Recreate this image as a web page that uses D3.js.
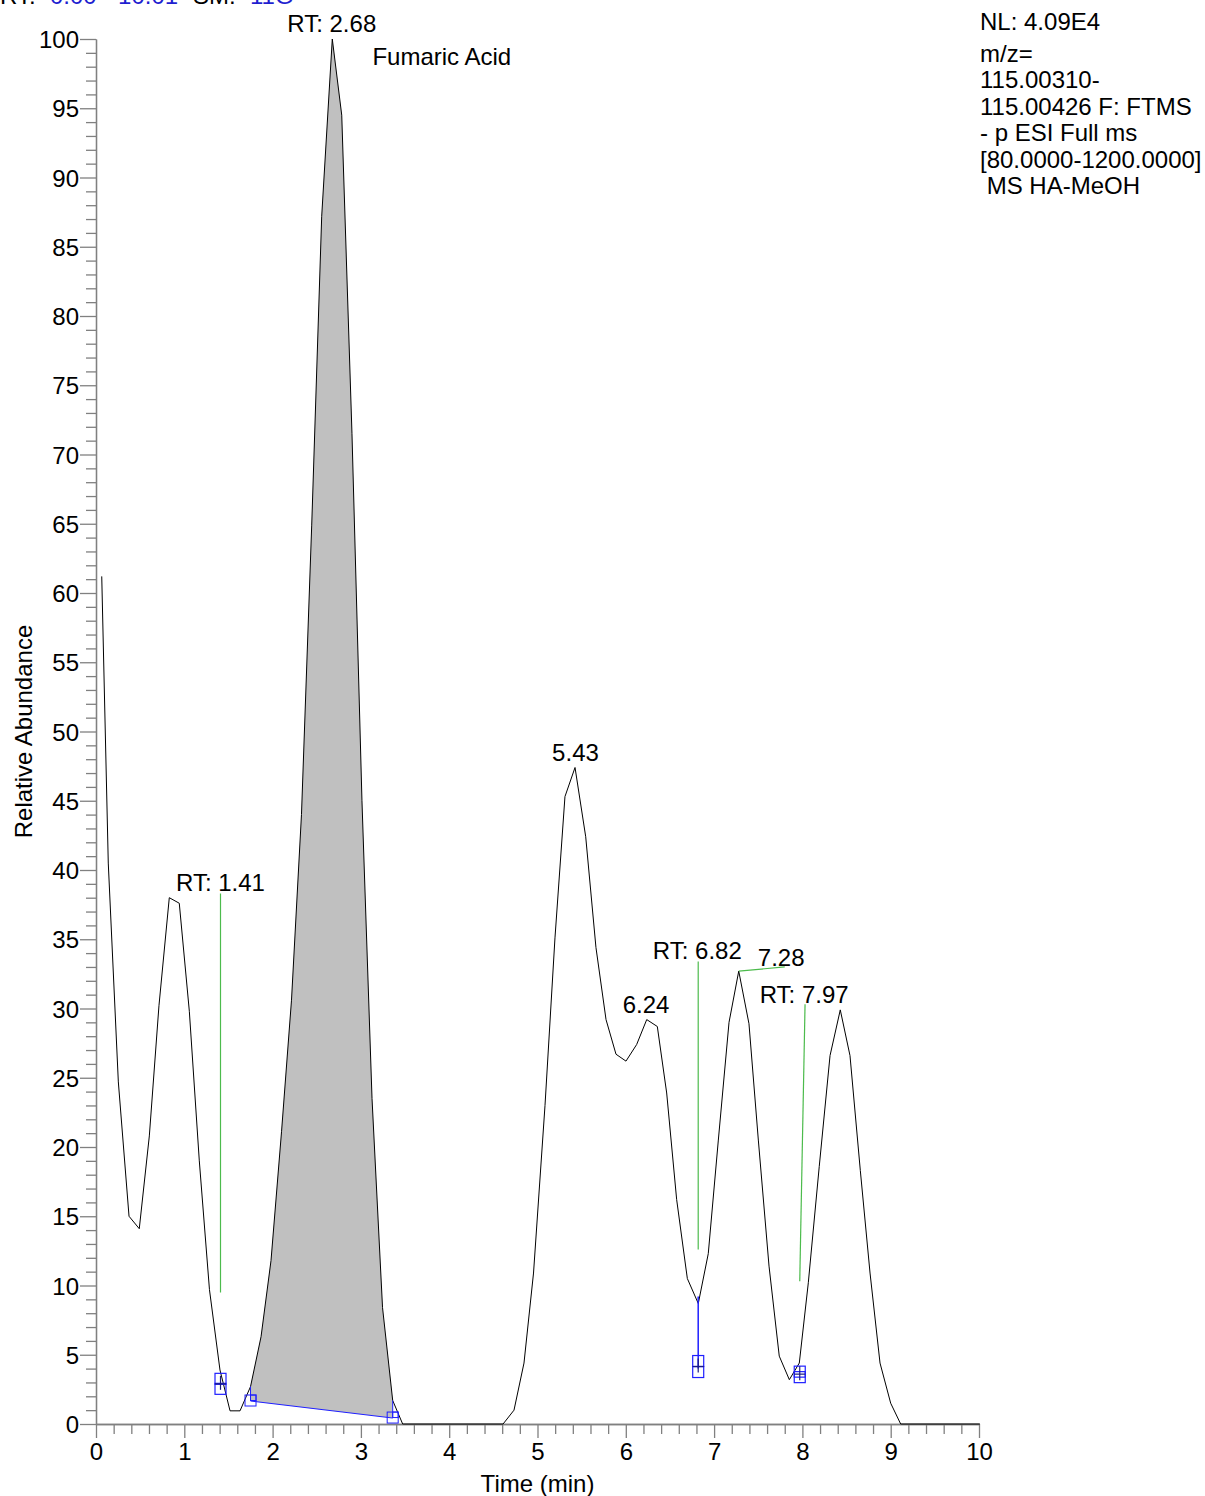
<!DOCTYPE html>
<html lang="en">
<head>
    <meta charset="UTF-8">
    <title>Fumaric Acid chromatogram</title>
    <script src="https://d3js.org/d3.v7.min.js"></script>
    <style>
        body {
            margin: 0;
            background: #fff;
            font-family: Arial, "Liberation Sans", sans-serif;
        }
        svg text {
            font-family: Arial, "Liberation Sans", sans-serif;
        }
    </style>
</head>
<body>
    <div id="chart"></div>
    <script>
        // retention time (min) and relative abundance of the trace
        const times = [0.065, 0.139, 0.253, 0.374, 0.490, 0.604, 0.713, 0.830, 0.943, 1.057,
            1.170, 1.285, 1.404, 1.518, 1.631, 1.750, 1.869, 1.982, 2.101, 2.214,
            2.327, 2.443, 2.556, 2.676, 2.783, 2.899, 3.012, 3.126, 3.245, 3.360,
            3.473, 4.610, 4.734, 4.847, 4.955, 5.085, 5.198, 5.311, 5.425, 5.546,
            5.662, 5.776, 5.889, 6.002, 6.123, 6.237, 6.357, 6.463, 6.576, 6.697,
            6.821, 6.934, 7.048, 7.169, 7.279, 7.395, 7.501, 7.622, 7.738, 7.852,
            7.965, 8.067, 8.191, 8.313, 8.429, 8.539, 8.656, 8.766, 8.879, 9.000,
            9.113, 10.01];
        const abundance = [61.2, 40.5, 24.7, 15.0, 14.1, 20.8, 30.2, 38.0, 37.6, 29.8,
            19.0, 9.7, 3.9, 0.95, 0.95, 2.7, 6.3, 11.8, 21.1, 30.6,
            44.0, 64.9, 87.2, 100, 94.5, 71.5, 45.0, 23.5, 8.4, 1.7,
            0, 0, 1.0, 4.4, 10.9, 23.0, 35.1, 45.3, 47.4, 42.4,
            34.4, 29.2, 26.7, 26.2, 27.4, 29.2, 28.7, 23.9, 16.2, 10.5,
            8.7, 12.3, 20.5, 29.0, 32.7, 28.9, 20.5, 11.4, 4.9, 3.2,
            4.4, 10.2, 18.6, 26.6, 29.9, 26.6, 18.3, 10.9, 4.4, 1.5,
            0, 0];

        const xMajor = d3.range(0, 11, 1);
        const yMajor = d3.range(0, 101, 5);

        // integrated peak (Fumaric Acid) baseline: [time, abundance]
        const peakBaseline = [[1.750, 1.66], [3.360, 0.43]];

        // peak labels: text, anchor time, anchor abundance, alignment
        const peakLabels = [
            { text: "RT: 2.68", t: 2.67, v: 100.5, anchor: "middle" },
            { text: "Fumaric Acid", t: 3.13, v: 98.1, anchor: "start" },
            { text: "RT: 1.41", t: 1.41, v: 38.5, anchor: "middle" },
            { text: "5.43", t: 5.43, v: 47.9, anchor: "middle" },
            { text: "6.24", t: 6.23, v: 29.7, anchor: "middle" },
            { text: "RT: 6.82", t: 6.81, v: 33.6, anchor: "middle" },
            { text: "7.28", t: 7.76, v: 33.1, anchor: "middle" },
            { text: "RT: 7.97", t: 8.02, v: 30.4, anchor: "middle" }
        ];

        // green leader lines [t1, v1, t2, v2]
        const leaders = [
            [1.41, 38.3, 1.41, 9.5],
            [6.82, 33.4, 6.82, 12.6],
            [7.28, 32.7, 7.80, 33.0],
            [8.03, 30.3, 7.97, 10.3]
        ];

        // blue peak-bound markers: time, abundance, square offsets (px)
        const markers = [
            { t: 1.41, v: 2.9, offs: [-5, 5] },
            { t: 6.82, v: 4.15, offs: [-5.5, 5.5] },
            { t: 7.97, v: 3.6, offs: [-2.5, 3] }
        ];
        // blue vertical drop from 6.82 valley to its marker
        const dropLine = [[6.82, 9.2], [6.82, 4.0]];

        const infoLines = ["NL: 4.09E4", "m/z=", "115.00310-", "115.00426 F: FTMS",
            "- p ESI Full ms", "[80.0000-1200.0000]", "\u00a0MS HA-MeOH"];
        const infoBaselines = [30, 62, 88, 115, 141, 168, 194];

        const headerParts = [
            { text: "RT:", x: 0, color: "#000" },
            { text: "0.00 - 10.01", x: 50, color: "#1f1fd0" },
            { text: "SM:", x: 193, color: "#000" },
            { text: "11G", x: 250, color: "#1f1fd0" }
        ];

        const W = 1205, H = 1496;
        const svg = d3.select("#chart").append("svg")
            .attr("width", W).attr("height", H);

        const x = d3.scaleLinear().domain([0, 10]).range([96, 979]);
        const y = d3.scaleLinear().domain([0, 100]).range([1424, 39]);

        const data = times.map((t, i) => ({ t: t, v: abundance[i] }));
        const fs = 24;
        const axisColor = "#808080";

        // fill of the integrated peak
        const inPeak = data.filter(d => d.t >= peakBaseline[0][0] - 1e-6 && d.t <= peakBaseline[1][0] + 1e-6);
        const poly = inPeak.map(d => [x(d.t), y(d.v)])
            .concat(peakBaseline.slice().reverse().map(p => [x(p[0]), y(p[1])]));
        svg.append("path")
            .attr("d", "M" + poly.join("L") + "Z")
            .attr("fill", "#c0c0c0")
            .attr("stroke", "none");

        // minor ticks
        const xMinor = d3.range(0, 10.01, 0.2).filter(v => Math.abs(v - Math.round(v)) > 1e-6);
        const yMinor = d3.range(0, 101, 1).filter(v => v % 5 !== 0);

        const gxMinor = svg.append("g")
            .attr("transform", `translate(0,${y(0)})`)
            .call(d3.axisBottom(x).tickValues(xMinor).tickSize(10).tickSizeOuter(0).tickFormat(""));
        const gyMinor = svg.append("g")
            .attr("transform", `translate(${x(0)},0)`)
            .call(d3.axisLeft(y).tickValues(yMinor).tickSize(10).tickSizeOuter(0).tickFormat(""));

        const gx = svg.append("g")
            .attr("transform", `translate(0,${y(0)})`)
            .call(d3.axisBottom(x).tickValues(xMajor).tickSize(14).tickSizeOuter(0).tickPadding(5).tickFormat(d3.format("d")));
        const gy = svg.append("g")
            .attr("transform", `translate(${x(0)},0)`)
            .call(d3.axisLeft(y).tickValues(yMajor).tickSize(16).tickSizeOuter(0).tickPadding(1).tickFormat(d3.format("d")));

        [gxMinor, gyMinor, gx, gy].forEach(g => {
            g.selectAll("path, line").attr("stroke", axisColor).attr("stroke-width", 1.3);
            g.selectAll("text").attr("fill", "#000").style("font-size", fs + "px");
        });
        gy.selectAll("text").attr("dy", "0.36em");

        // trace
        svg.append("path")
            .datum(data)
            .attr("fill", "none")
            .attr("stroke", "#000")
            .attr("stroke-width", 1)
            .attr("d", d3.line().x(d => x(d.t)).y(d => y(d.v)));

        // baseline of integrated peak
        const blue = "#1f1fff";
        svg.append("line")
            .attr("x1", x(peakBaseline[0][0])).attr("y1", y(peakBaseline[0][1]))
            .attr("x2", x(peakBaseline[1][0])).attr("y2", y(peakBaseline[1][1]))
            .attr("stroke", blue).attr("stroke-width", 1);
        peakBaseline.forEach((p, i) => {
            const d = inPeak[i === 0 ? 0 : inPeak.length - 1];
            svg.append("line")
                .attr("x1", x(p[0])).attr("x2", x(p[0]))
                .attr("y1", y(d.v)).attr("y2", y(p[1]))
                .attr("stroke", blue).attr("stroke-width", 1);
            const cx = x(p[0]), cy = y(p[1]);
            svg.append("rect")
                .attr("x", cx - 5.5).attr("y", cy - 6)
                .attr("width", 11).attr("height", 11)
                .attr("fill", "none").attr("stroke", blue).attr("stroke-width", 1);
            svg.append("rect")
                .attr("x", cx).attr("y", cy - 6)
                .attr("width", 5.5).attr("height", 5.5)
                .attr("fill", "none").attr("stroke", blue).attr("stroke-width", 1);
        });

        // blue drop line at 6.82
        svg.append("line")
            .attr("x1", x(dropLine[0][0])).attr("y1", y(dropLine[0][1]))
            .attr("x2", x(dropLine[1][0])).attr("y2", y(dropLine[1][1]))
            .attr("stroke", blue).attr("stroke-width", 1.5);

        // markers
        markers.forEach(m => {
            const cx = x(m.t), cy = y(m.v);
            m.offs.forEach(o => {
                svg.append("rect")
                    .attr("x", cx - 5.5).attr("y", cy + o - 5.5)
                    .attr("width", 11).attr("height", 11)
                    .attr("fill", "none").attr("stroke", blue).attr("stroke-width", 1.2);
            });
            svg.append("line")
                .attr("x1", cx - 5.5).attr("x2", cx + 5.5).attr("y1", cy).attr("y2", cy)
                .attr("stroke", "#1a1a80").attr("stroke-width", 1.2);
            svg.append("line")
                .attr("x1", cx).attr("x2", cx).attr("y1", cy - 8).attr("y2", cy + 6)
                .attr("stroke", "#1a1a80").attr("stroke-width", 1.2);
        });

        // green leader lines
        svg.selectAll(".leader")
            .data(leaders)
            .enter()
            .append("line")
            .attr("class", "leader")
            .attr("x1", d => x(d[0])).attr("y1", d => y(d[1]))
            .attr("x2", d => x(d[2])).attr("y2", d => y(d[3]))
            .attr("stroke", "#4cbb4c").attr("stroke-width", 1.2);

        // peak labels
        svg.selectAll(".peak-label")
            .data(peakLabels)
            .enter()
            .append("text")
            .attr("class", "peak-label")
            .attr("x", d => x(d.t))
            .attr("y", d => y(d.v))
            .attr("text-anchor", d => d.anchor)
            .style("font-size", fs + "px")
            .text(d => d.text);

        // axis titles
        svg.append("text")
            .attr("x", (x(0) + x(10)) / 2)
            .attr("y", 1492)
            .attr("text-anchor", "middle")
            .style("font-size", fs + "px")
            .text("Time (min)");
        svg.append("text")
            .attr("transform", `translate(32,${(y(0) + y(100)) / 2}) rotate(-90)`)
            .attr("text-anchor", "middle")
            .style("font-size", fs + "px")
            .text("Relative Abundance");

        // header (cut off at the top, as in the original export)
        svg.selectAll(".head")
            .data(headerParts)
            .enter()
            .append("text")
            .attr("class", "head")
            .attr("x", d => d.x)
            .attr("y", 4)
            .attr("fill", d => d.color)
            .style("font-size", fs + "px")
            .text(d => d.text);

        // info block top right
        svg.selectAll(".info")
            .data(infoLines)
            .enter()
            .append("text")
            .attr("class", "info")
            .attr("x", 980)
            .attr("y", (d, i) => infoBaselines[i])
            .style("font-size", fs + "px")
            .text(d => d);
    </script>
</body>
</html>
